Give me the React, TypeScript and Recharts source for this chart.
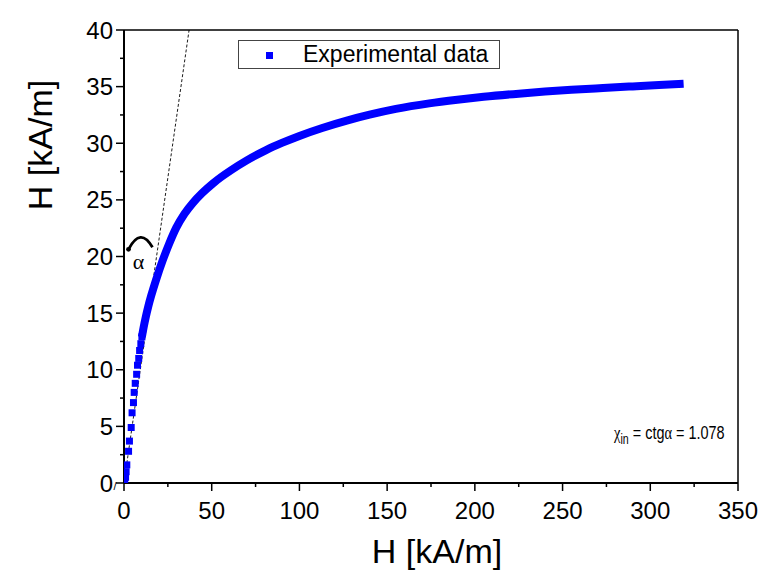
import React from "react";
import {
  ComposedChart,
  Line,
  Scatter,
  XAxis,
  YAxis,
  ReferenceLine,
  ReferenceDot,
} from "recharts";

// sparse experimental points near the origin (drawn as separate squares)
const lowPoints = [
  { x: 0.4, y: 0.1 },
  { x: 0.9, y: 0.5 },
  { x: 1.2, y: 1.0 },
  { x: 1.6, y: 1.6 },
  { x: 2.6, y: 2.8 },
  { x: 3.1, y: 3.7 },
  { x: 4.1, y: 4.9 },
  { x: 4.6, y: 6.2 },
  { x: 5.4, y: 7.1 },
  { x: 5.8, y: 8.0 },
  { x: 6.4, y: 8.8 },
  { x: 7.2, y: 9.6 },
  { x: 7.7, y: 10.4 },
  { x: 8.4, y: 11.0 },
  { x: 8.9, y: 11.7 },
  { x: 9.6, y: 12.3 },
  { x: 10.2, y: 12.9 },
];

// dense part of the curve (markers merge into a thick line)
const densePoints = [
  { x: 10.2, y: 12.9 },
  { x: 11.2, y: 13.75 },
  { x: 12.4, y: 14.65 },
  { x: 13.8, y: 15.57 },
  { x: 15.5, y: 16.54 },
  { x: 18.4, y: 18.0 },
  { x: 22.1, y: 19.67 },
  { x: 25.8, y: 21.15 },
  { x: 29.8, y: 22.55 },
  { x: 34.5, y: 23.78 },
  { x: 39.2, y: 24.72 },
  { x: 44.5, y: 25.59 },
  { x: 50.6, y: 26.44 },
  { x: 55.5, y: 27.03 },
  { x: 61, y: 27.62 },
  { x: 70, y: 28.49 },
  { x: 81, y: 29.4 },
  { x: 90, y: 30.03 },
  { x: 100, y: 30.65 },
  { x: 113, y: 31.35 },
  { x: 127, y: 32.0 },
  { x: 140, y: 32.52 },
  { x: 155, y: 33.03 },
  { x: 174, y: 33.52 },
  { x: 190, y: 33.84 },
  { x: 205, y: 34.1 },
  { x: 225, y: 34.38 },
  { x: 240, y: 34.56 },
  { x: 255, y: 34.72 },
  { x: 273, y: 34.88 },
  { x: 290, y: 35.02 },
  { x: 305, y: 35.14 },
  { x: 319, y: 35.26 },
];

const xTicks = [0, 25, 50, 75, 100, 125, 150, 175, 200, 225, 250, 275, 300, 325, 350];
const yTicks = [0, 2.5, 5, 7.5, 10, 12.5, 15, 17.5, 20, 22.5, 25, 27.5, 30, 32.5, 35, 37.5, 40];

const chi = 1.078;
const tangentTop = { x: 40 / chi, y: 40 };

const FONT = "'Liberation Sans', Arial, sans-serif";
const SERIF = "'Liberation Serif', 'DejaVu Serif', serif";
const BLUE = "#0000ff";

function YTick(props: any) {
  const { x, y, payload } = props;
  const v = payload.value;
  const major = v % 5 === 0;
  return (
    <g>
      <line x1={x - (major ? 8 : 4)} y1={y} x2={x} y2={y} stroke="#000" strokeWidth={1.5} />
      {major && (
        <text x={x - 11} y={y} textAnchor="end" dominantBaseline="central" fontSize={24} fontFamily={FONT} fill="#000">
          {v}
        </text>
      )}
      {v === 0 && (
        <text x={x - 9} y={y + 3} textAnchor="middle" dominantBaseline="central" fontSize={11} fontFamily={FONT} fill="#000">
          /
        </text>
      )}
    </g>
  );
}

function XTick(props: any) {
  const { x, y, payload } = props;
  const v = payload.value;
  const major = v % 50 === 0;
  return (
    <g>
      <line x1={x} y1={y} x2={x} y2={y + (major ? 8 : 4)} stroke="#000" strokeWidth={1.5} />
      {major && (
        <text x={x} y={y + 27} textAnchor="middle" dominantBaseline="central" fontSize={24} fontFamily={FONT} fill="#000">
          {v}
        </text>
      )}
    </g>
  );
}

function Square(props: any) {
  const { cx, cy } = props;
  return <rect x={cx - 3.5} y={cy - 3.5} width={7} height={7} fill={BLUE} />;
}

function AngleMark(props: any) {
  const { cx, cy } = props;
  return (
    <g>
      <path
        d={`M ${cx - 12} ${cy + 3} Q ${cx} ${cy - 20} ${cx + 12} ${cy + 1}`}
        fill="none"
        stroke="#000"
        strokeWidth={2.8}
      />
      <circle cx={cx - 12} cy={cy + 3} r={2.4} fill="#000" />
      <text x={cx - 2} y={cy + 15} textAnchor="middle" dominantBaseline="central" fontSize={22} fontFamily={SERIF} fill="#000">
        α
      </text>
    </g>
  );
}

export default function App() {
  return (
    <div style={{ position: "absolute", left: 0, top: 0, width: 766, height: 574, background: "#fff" }}>
      <ComposedChart
        width={766}
        height={574}
        margin={{ top: 30, right: 28, left: 0, bottom: 0 }}
      >
        <XAxis
          type="number"
          dataKey="x"
          domain={[0, 350]}
          ticks={xTicks}
          interval={0}
          tickSize={0}
          tickMargin={0}
          tickLine={false}
          tick={<XTick />}
          height={91}
          axisLine={{ stroke: "#000", strokeWidth: 2 }}
          allowDataOverflow
        />
        <YAxis
          type="number"
          dataKey="y"
          domain={[0, 40]}
          ticks={yTicks}
          interval={0}
          tickSize={0}
          tickMargin={0}
          tickLine={false}
          tick={<YTick />}
          width={124}
          axisLine={{ stroke: "#000", strokeWidth: 2 }}
          allowDataOverflow
        />
        <ReferenceLine y={40} stroke="#000" strokeWidth={1.5} />
        <ReferenceLine x={350} stroke="#000" strokeWidth={1.5} />
        <ReferenceLine
          segment={[{ x: 0, y: 0 }, tangentTop]}
          stroke="#000"
          strokeWidth={0.9}
          strokeDasharray="3 2"
        />
        <Line
          data={densePoints}
          dataKey="y"
          type="monotone"
          stroke={BLUE}
          strokeWidth={8}
          dot={false}
          isAnimationActive={false}
        />
        <Scatter data={lowPoints} dataKey="y" fill={BLUE} shape={<Square />} isAnimationActive={false} />
        <ReferenceDot x={9.4} y={20.9} r={0} shape={<AngleMark />} ifOverflow="visible" />
      </ComposedChart>

      <div
        style={{
          position: "absolute",
          left: 40,
          top: 145,
          transform: "translate(-50%, -50%) rotate(-90deg)",
          fontFamily: FONT,
          fontSize: 34,
          whiteSpace: "nowrap",
          lineHeight: 1,
        }}
      >
        H [kA/m]
      </div>
      <div
        style={{
          position: "absolute",
          left: 437,
          top: 551,
          transform: "translate(-50%, -50%)",
          fontFamily: FONT,
          fontSize: 34,
          whiteSpace: "nowrap",
          lineHeight: 1,
        }}
      >
        H [kA/m]
      </div>

      <div
        style={{
          position: "absolute",
          left: 238,
          top: 40,
          width: 262,
          height: 29,
          border: "1px solid #444",
          background: "#fff",
          boxSizing: "border-box",
        }}
      >
        <div style={{ position: "absolute", left: 27, top: 11, width: 7, height: 7, background: BLUE }} />
        <div
          style={{
            position: "absolute",
            left: 64,
            top: 0,
            lineHeight: "27px",
            fontFamily: FONT,
            fontSize: 23,
            whiteSpace: "nowrap",
          }}
        >
          Experimental data
        </div>
      </div>

      <div
        style={{
          position: "absolute",
          left: 614,
          top: 423,
          fontFamily: FONT,
          fontSize: 19,
          whiteSpace: "nowrap",
          lineHeight: 1,
          transform: "scaleX(0.76)",
          transformOrigin: "left top",
        }}
      >
        <span style={{ fontFamily: SERIF }}>χ</span>
        <sub style={{ fontSize: 14 }}>in</sub> = ctg<span style={{ fontFamily: SERIF }}>α</span> = {chi.toFixed(3)}
      </div>
    </div>
  );
}
